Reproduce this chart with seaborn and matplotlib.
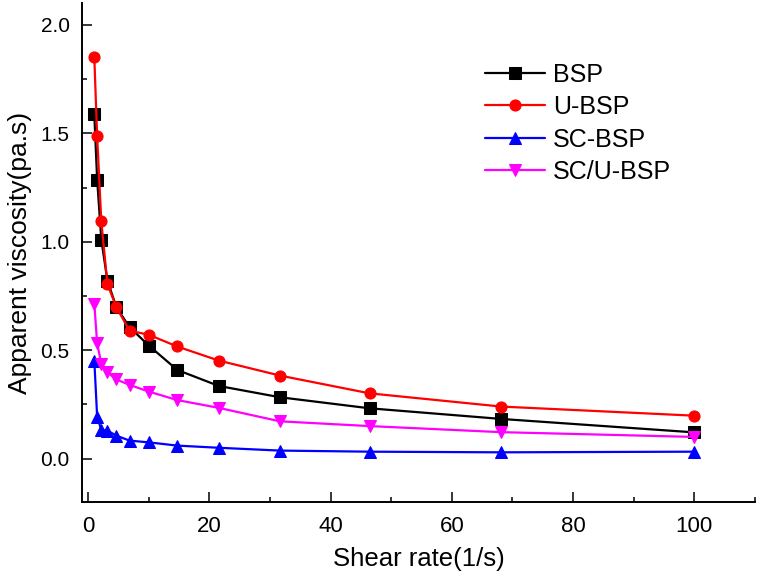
import pandas as pd
import matplotlib
matplotlib.use("Agg")
import matplotlib.pyplot as plt
import seaborn as sns
from matplotlib.ticker import MultipleLocator

shear_rate = [1, 1.468, 2.154, 3.162, 4.642, 6.813, 10, 14.68, 21.54, 31.62, 46.42, 68.13, 100]

bsp = [1.587, 1.287, 1.01, 0.821, 0.698, 0.606, 0.521, 0.409, 0.335, 0.283, 0.232, 0.183, 0.121]
u_bsp = [1.85, 1.486, 1.094, 0.805, 0.698, 0.59, 0.571, 0.517, 0.452, 0.383, 0.301, 0.240, 0.198]
sc_bsp = [0.452, 0.194, 0.132, 0.129, 0.106, 0.083, 0.075, 0.06, 0.05, 0.037, 0.032, 0.029, 0.032]
sc_u_bsp = [0.714, 0.532, 0.437, 0.398, 0.365, 0.340, 0.309, 0.27, 0.234, 0.172, 0.15, 0.122, 0.10]

names = ["BSP", "U-BSP", "SC-BSP", "SC/U-BSP"]
colors = ["#000000", "#FF0000", "#0000FF", "#FF00FF"]
markers = ["s", "o", "^", "v"]

df = pd.DataFrame({"x": shear_rate, "BSP": bsp, "U-BSP": u_bsp,
                   "SC-BSP": sc_bsp, "SC/U-BSP": sc_u_bsp})

sns.set_style("ticks")
plt.rcParams["font.family"] = ["Liberation Sans", "DejaVu Sans"]
plt.rcParams["text.color"] = "black"
plt.rcParams["axes.labelcolor"] = "black"
plt.rcParams["xtick.color"] = "black"
plt.rcParams["ytick.color"] = "black"

fig = plt.figure(figsize=(7.61, 5.8), dpi=100)
ax = fig.add_axes([0.108, 0.1345, 0.884, 0.86])

for i, name in enumerate(names):
    sns.lineplot(data=df, x="x", y=name, ax=ax, color=colors[i], marker=markers[i],
                 markersize=8, markeredgecolor=colors[i], linewidth=1.6, label=name)

ax.set_xlim(-1, 110)
ax.set_ylim(-0.2, 2.1)
ax.xaxis.set_major_locator(MultipleLocator(20))
ax.xaxis.set_minor_locator(MultipleLocator(10))
ax.yaxis.set_major_locator(MultipleLocator(0.5))
ax.yaxis.set_minor_locator(MultipleLocator(0.25))
ax.tick_params(which="major", direction="in", length=7.2, width=1.1)
ax.tick_params(which="minor", direction="in", length=3.6, width=1.1)
ax.tick_params(axis="x", which="major", labelsize=16, pad=10)
ax.tick_params(axis="y", which="major", labelsize=15, pad=9)
for s in ["left", "bottom"]:
    ax.spines[s].set_linewidth(1.4)
    ax.spines[s].set_color("black")
sns.despine(ax=ax)

ax.set_xlabel("Shear rate(1/s)", fontsize=18.5, labelpad=7)
ax.set_ylabel("Apparent viscosity(pa.s)", fontsize=19, labelpad=6)

ax.legend(loc="upper left", bbox_to_anchor=(0.566, 0.926), frameon=False,
          fontsize=18, handlelength=2.4, labelspacing=0.34, handletextpad=0.3)

fig.savefig("out.png", dpi=100)
